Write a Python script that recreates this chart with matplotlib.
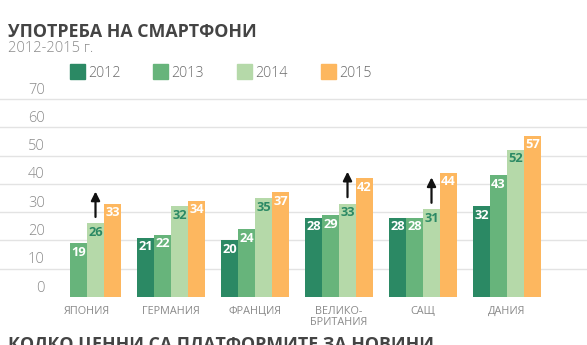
import numpy as np
import matplotlib
matplotlib.use('Agg')
from matplotlib import pyplot as plt
from matplotlib.patches import Rectangle

plt.rcParams['font.family'] = ['Open Sans', 'DejaVu Sans']

# smartphone usage, % by country and year
countries = ['ЯПОНИЯ', 'ГЕРМАНИЯ', 'ФРАНЦИЯ', 'ВЕЛИКО-\nБРИТАНИЯ', 'САЩ', 'ДАНИЯ']
years = ['2012', '2013', '2014', '2015']
v2012 = [None, 21, 20, 28, 28, 32]
v2013 = [19, 22, 24, 29, 28, 43]
v2014 = [26, 32, 35, 33, 31, 52]
v2015 = [33, 34, 37, 42, 44, 57]
arrow_on = [0, 3, 4]   # groups with an arrow over the 2014 bar
yticks = [0, 10, 20, 30, 40, 50, 60, 70]

colors = ['#2b8964', '#67b47b', '#b5d9a9', '#fdb75f']
label_colors = ['white', 'white', '#2b8964', 'white']

W, H = 587, 345
fig = plt.figure(figsize=(W / 100, H / 100), dpi=100)
y0_px, y70_px = 297, 99
ax = fig.add_axes([0, 1 - y0_px / H, 1, (y0_px - y70_px) / H])
# x unit = one group (84 px), group 0 centred at 87 px
ax.set_xlim(-87 / 84, (W - 87) / 84)
ax.set_ylim(0, 70)
ax.axis('off')

for t in yticks[1:]:
    ax.axhline(t, color='#e3e3e3', lw=1.0, zorder=0, clip_on=False)
for t in yticks:
    ax.text(45 / 84 - 87 / 84, t + 0.5, str(t), ha='right', va='bottom',
            fontsize=10.5, color='#8a8a8a', fontweight='light')

bw = 17 / 84
x = np.arange(len(countries))
series = [v2012, v2013, v2014, v2015]
for k, vals in enumerate(series):
    for i, v in enumerate(vals):
        if v is None:
            continue
        xc = x[i] + (k - 1.5) * bw
        ax.bar(xc, v, width=bw, color=colors[k], lw=0, zorder=2)
        ax.text(xc, v - 0.9, str(v), ha='center', va='top', fontsize=9.3,
                fontweight='bold', color=label_colors[k], zorder=3)

for i in arrow_on:
    xc = x[i] + 0.5 * bw
    top = v2014[i]
    ax.annotate('', xy=(xc, top + 11.3), xytext=(xc, top + 2.3),
                arrowprops=dict(arrowstyle='-|>', color='#111111', lw=1.6,
                                mutation_scale=13, shrinkA=0, shrinkB=0),
                zorder=4)

for i, c in enumerate(countries):
    fig.text((87 + 84 * i) / W, 1 - 306 / H, c, ha='center', va='top',
             fontsize=7.8, color='#8a8a8a', linespacing=1.05)

# titles
fig.text(8 / W, 1 - 37 / H, 'УПОТРЕБА НА СМАРТФОНИ', ha='left', va='baseline',
         fontsize=12.8, fontweight='bold', color='#444444')
fig.text(8 / W, 1 - 52 / H, '2012-2015 г.', ha='left', va='baseline',
         fontsize=10.5, color='#8a8a8a', fontweight='light')
fig.text(8 / W, 1 - 349 / H, 'КОЛКО ЦЕННИ СА ПЛАТФОРМИТЕ ЗА НОВИНИ', ha='left',
         va='baseline', fontsize=12.8, fontweight='bold', color='#444444')

# legend
leg_x = [70, 153, 237, 321]
for k, yr in enumerate(years):
    fig.patches.append(Rectangle((leg_x[k] / W, 1 - 79 / H), 15 / W, 15 / H,
                                 transform=fig.transFigure, color=colors[k]))
    fig.text((leg_x[k] + 18) / W, 1 - 77 / H, yr, ha='left', va='baseline',
             fontsize=10.3, color='#6a6a6a', fontweight='light')

fig.savefig('out.png', dpi=100)
